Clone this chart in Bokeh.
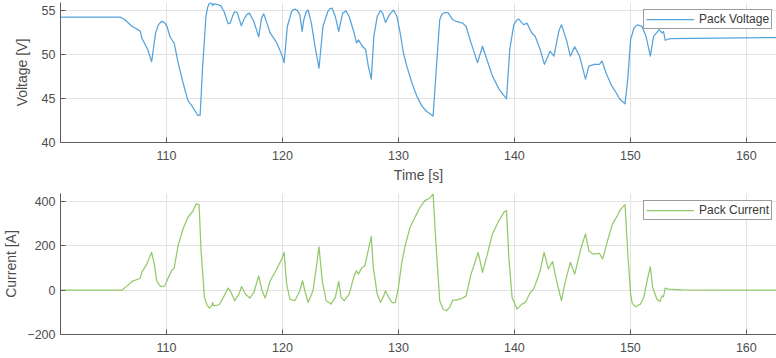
from bokeh.plotting import figure
from bokeh.layouts import column
from bokeh.models import Range1d, FixedTicker, Legend, LegendItem
from bokeh.embed import file_html
from bokeh.resources import INLINE

# ---- data ----
time_v = [100.86, 106.0, 106.3, 106.6, 107.02, 107.4, 107.74, 107.87, 108.38, 108.72, 109.06,
          109.3, 109.52, 109.66, 109.85, 110.05, 110.29, 110.55, 110.66, 111.0, 111.42, 111.85,
          112.27, 112.7, 112.8, 112.9, 113.12, 113.4, 113.55, 113.7, 113.9, 113.98, 114.1,
          114.45, 114.68, 114.97, 115.31, 115.5, 115.7, 115.88, 116.1, 116.45, 116.73, 116.95, 117.15,
          117.53, 117.95, 118.2, 118.38, 118.66, 118.94, 119.51, 119.94, 120.14, 120.42, 120.79,
          120.95, 121.13, 121.3, 121.5, 121.7, 121.84, 122.05, 122.21, 122.49, 122.8, 123.15, 123.49, 123.91,
          124.1, 124.28, 124.56, 124.85, 125.19, 125.47, 125.75, 126.18, 126.38, 126.55, 126.89,
          127.17, 127.4, 127.66, 127.88, 128.17, 128.45, 128.65, 128.88, 129.22, 129.58, 129.87,
          130.15, 130.43, 130.72, 131.15, 131.57, 132.0, 132.43, 132.7, 132.99, 133.28,
          133.56, 133.75, 133.98, 134.27, 134.69, 134.98, 135.54, 135.83, 136.26, 136.82, 137.25,
          137.67, 138.1, 138.67, 139.32, 139.6, 139.95, 140.2, 140.37, 140.8, 141.08, 141.5,
          141.79, 142.22, 142.59, 143.07, 143.41, 143.63, 143.85, 144.06, 144.48, 144.82, 145.2,
          145.62, 146.13, 146.42, 146.9, 147.33, 147.55, 147.89, 148.31, 148.74, 149.08,
          149.54, 149.8, 150.02, 150.31, 150.6, 151.0, 151.35, 151.72, 152.0, 152.49,
          152.72, 152.86, 153.0, 153.42, 162.6]
voltage = [54.28, 54.28, 54.1, 53.75, 53.25, 52.95, 52.7, 51.9, 50.6, 49.2, 52.48,
           53.4, 53.75, 53.8, 53.65, 53.2, 52.1, 51.5, 51.35, 49.1, 46.84, 44.77,
           44.02, 43.08, 43.15, 43.1, 48.7, 54.35, 55.4, 55.86, 55.9, 55.6, 55.8,
           55.7, 55.56, 54.9, 53.53, 53.6, 54.4, 54.9, 54.8, 53.3, 54.17, 54.6, 54.74,
           53.79, 52.03, 54.2, 54.66, 53.6, 52.48, 51.35, 50.0, 49.1, 53.22, 54.92,
           55.15, 55.19, 55.0, 54.54, 52.66, 53.98, 54.9, 55.1, 53.6, 51.0, 48.46, 53.22, 54.92,
           55.25, 55.3, 54.35, 52.66, 54.74, 54.99, 54.35, 52.48, 51.35, 51.7, 50.97,
           50.6, 48.7, 47.22, 52.1, 54.35, 55.03, 54.7, 53.68, 54.54, 55.1, 54.35,
           52.48, 50.22, 48.7, 46.84, 45.33, 44.2, 43.53, 43.3, 43.0, 48.7,
           53.98, 54.6, 54.8, 54.8, 53.98, 53.79, 53.6, 53.22, 51.35, 49.1, 50.97,
           49.28, 47.59, 46.09, 44.96, 50.6, 53.42, 53.95, 54.06, 53.42, 53.6, 52.48,
           52.1, 50.6, 48.9, 50.4, 49.84, 51.35, 52.8, 53.42, 51.72, 49.84, 50.9,
           49.84, 47.22, 48.7, 48.9, 48.9, 49.28, 47.97, 46.65, 45.72, 44.96,
           44.4, 47.59, 51.72, 53.04, 53.4, 53.22, 52.1, 49.84, 52.1, 52.85,
           52.48, 52.66, 51.65, 51.84, 51.95]

time_i = [100.86, 106.17, 106.6, 107.02, 107.59, 107.73, 107.87, 108.3, 108.72, 108.95,
          109.15, 109.4, 109.57, 109.86, 110.14, 110.43, 110.66, 111.0, 111.42, 111.85, 112.27,
          112.55, 112.81, 112.98, 113.27, 113.5, 113.7, 113.9, 113.98, 114.06, 114.55, 114.97,
          115.31, 115.5, 115.88, 116.25, 116.47, 116.8, 117.18, 117.53, 117.95, 118.24,
          118.51, 118.94, 119.51, 119.94, 120.14, 120.36, 120.64, 121.07, 121.5, 121.73,
          121.93, 122.21, 122.63, 122.92, 123.15, 123.43, 123.77, 124.19, 124.56, 124.85,
          125.05, 125.33, 125.75, 126.18, 126.38, 126.55, 126.83, 127.11, 127.45, 127.66,
          127.83, 128.17, 128.45, 128.73, 128.88, 129.16, 129.45, 129.73, 130.0, 130.29,
          130.58, 131.0, 131.43, 131.86, 132.28, 132.71, 132.99, 133.22, 133.56, 133.85, 134.13,
          134.41, 134.69, 134.98, 135.54, 135.83, 136.26, 136.88, 137.25, 137.67, 138.1,
          138.67, 139.09, 139.32, 139.52, 139.8, 140.23, 140.65, 140.94, 141.37, 141.65,
          141.93, 142.22, 142.56, 142.93, 143.29, 143.63, 144.06, 144.34, 144.82, 145.2,
          145.76, 146.13, 146.42, 146.76, 147.33, 147.61, 148.03, 148.46, 148.88, 149.08,
          149.37, 149.54, 149.8, 150.02, 150.16, 150.45, 150.87, 151.16, 151.44, 151.72,
          151.92, 152.29, 152.57, 152.72, 152.86, 153.0, 153.28, 154.4, 162.6]
current = [0, 0, 19, 39, 50, 54, 80, 117, 170, 117,
           42, 22, 15, 19, 54, 87, 99, 200, 275, 328, 355,
           388, 385, 177, -33, -68, -81, -70, -56, -71, -66, -26,
           9, -3, -48, -18, 16, -18, -36, -11, 64, -3,
           -36, 42, 95, 140, 170, 27, -41, -48, -3, 42,
           -3, -56, -3, 102, 195, 42, -48, -63, -33, 39,
           -33, -48, -18, 64, 87, 72, 99, 110, 192, 242,
           102, -18, -56, -26, -3, -33, -56, -56, 12, 125,
           200, 282, 328, 373, 403, 415, 433, 222, -48, -85, -93,
           -78, -45, -45, -36, -26, 72, 170, 80, 162, 253,
           313, 350, 358, 147, -33, -86, -63, -56, -11, 5,
           42, 87, 170, 95, 129, 42, -48, 27, 125, 72,
           192, 253, 177, 162, 165, 140, 222, 298, 335, 358,
           376, 385, 147, -18, -60, -75, -63, -33, 42, 105,
           12, -41, -51, -26, -30, 9, 4, 1, 0]

x_ticks = [110, 120, 130, 140, 150, 160]
v_ticks = [40, 45, 50, 55]
i_ticks = [-200, 0, 200, 400]

FONT = "Liberation Sans"
GREY = "#4d4d4d"
AXIS = "#5c5c5c"
GRID = "#e2e2e2"
X0, X1 = 100.86, 162.6


def style(p, yticks, ylabel, ylabel_standoff, xlabel=None):
    p.outline_line_color = None
    p.background_fill_color = "white"
    p.border_fill_color = "white"
    p.xaxis.ticker = FixedTicker(ticks=x_ticks)
    p.yaxis.ticker = FixedTicker(ticks=yticks)
    p.grid.grid_line_color = GRID
    p.grid.grid_line_width = 1
    for ax in (p.xaxis[0], p.yaxis[0]):
        ax.axis_line_color = AXIS
        ax.axis_line_width = 1
        ax.major_tick_line_color = AXIS
        ax.major_tick_in = 5
        ax.major_tick_out = 0
        ax.minor_tick_line_color = None
        ax.major_label_text_font = FONT
        ax.major_label_text_font_size = "12.5px"
        ax.major_label_text_color = GREY
        ax.axis_label_text_font = FONT
        ax.axis_label_text_font_size = "14px"
        ax.axis_label_text_font_style = "normal"
        ax.axis_label_text_color = GREY
    p.yaxis.major_label_standoff = 5
    p.yaxis.axis_label = ylabel
    p.yaxis.axis_label_standoff = ylabel_standoff
    p.xaxis.major_label_standoff = 8
    if xlabel:
        p.xaxis.axis_label = xlabel
        p.xaxis.axis_label_standoff = 4


def legend(p, r, label, loc):
    lg = Legend(items=[LegendItem(label=label, renderers=[r])], location=loc,
                margin=0, padding=2, spacing=0, label_standoff=5,
                glyph_width=48, glyph_height=12, label_height=12,
                label_text_font=FONT, label_text_font_size="12px",
                label_text_color="#383838", border_line_color="#3a3a3a",
                border_line_width=1, background_fill_color="white",
                background_fill_alpha=1.0)
    p.add_layout(lg)


p1 = figure(width=776, height=185, x_range=Range1d(X0, X1), y_range=Range1d(40, 55.95),
            output_backend="svg", toolbar_location=None,
            min_border_left=51, min_border_right=0, min_border_top=2, min_border_bottom=41)
style(p1, v_ticks, "Voltage [V]", 9, "Time [s]")
r1 = p1.line(time_v, voltage, line_color="#55a3db", line_width=1.25, line_join="round")
legend(p1, r1, "Pack Voltage", (583, 113))

p2 = figure(width=776, height=173, x_range=Range1d(X0, X1), y_range=Range1d(-200, 435),
            output_backend="svg", toolbar_location=None,
            min_border_left=51, min_border_right=0, min_border_top=8, min_border_bottom=24)
style(p2, i_ticks, "Current [A]", 5)
r2 = p2.line(time_i, current, line_color="#93c96b", line_width=1.25, line_join="round")
legend(p2, r2, "Pack Current", (583, 114))

layout = column(p1, p2, spacing=0)
open("out.html", "w").write(file_html(layout, INLINE))
